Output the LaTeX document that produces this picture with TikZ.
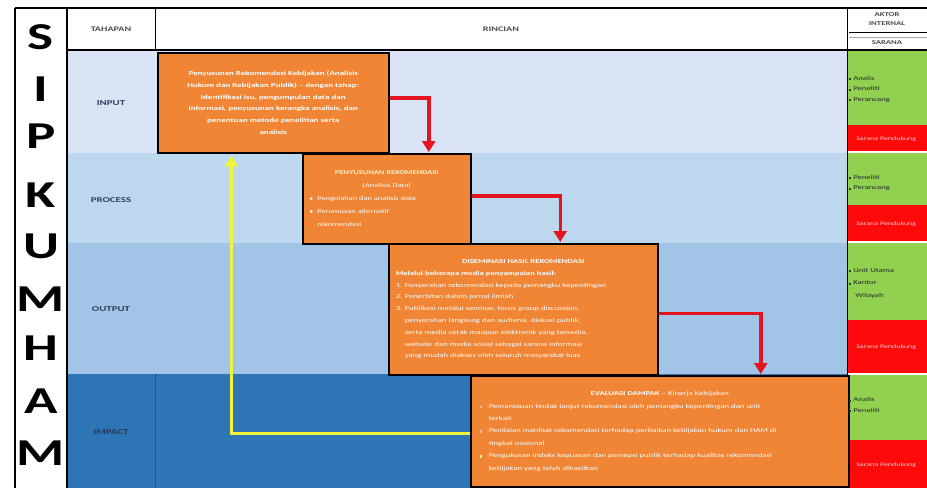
\documentclass[tikz,border=0pt]{standalone}
\usepackage{fontspec}
\setmainfont{Carlito}[FakeStretch=1.45]
\usetikzlibrary{arrows.meta, positioning}

\definecolor{barisinput}{HTML}{DAE3F3}
\definecolor{barisproses}{HTML}{BDD7EE}
\definecolor{barisoutput}{HTML}{A2C4E6}
\definecolor{barisimpact}{HTML}{2E75B6}
\definecolor{oranye}{HTML}{F08536}
\definecolor{hijau}{HTML}{92D050}
\definecolor{hijautua}{HTML}{1E4D14}
\definecolor{merah}{HTML}{FF0A0A}
\definecolor{panahmerah}{HTML}{E3141E}
\definecolor{panahkuning}{HTML}{F0F53C}
\definecolor{teksbaris}{HTML}{2F3E5C}
\definecolor{judulkuning}{HTML}{FFF2CC}

\begin{document}
\begin{tikzpicture}[
            x = 1pt, y = -1pt, % one unit per pixel, y grows down
            > = {Triangle[width=13pt,length=11pt]}, % arrow head style
            semithick % line style
        ]

        \tikzstyle{huruf}=[
            font = \fontsize{38}{38}\selectfont\bfseries,
            inner sep = 0pt
        ]
        \tikzstyle{tahap}=[
            font = \fontsize{7.5}{8}\selectfont\bfseries,
            text = teksbaris
        ]
        \tikzstyle{kepala}=[
            font = \fontsize{7}{8}\selectfont\bfseries,
            text = black!70
        ]
        \tikzstyle{ketbox}=[
            draw = black,
            line width = 1.5pt,
            fill = oranye,
            text = white,
            anchor = north west,
            inner sep = 2pt,
            font = \fontsize{6}{11.8}\selectfont
        ]
        \tikzstyle{aktor}=[
            anchor = west,
            align = left,
            inner sep = 0pt,
            font = \fontsize{6}{10.5}\selectfont,
            text = black!85
        ]
        \tikzstyle{sarana}=[
            anchor = west,
            inner sep = 0pt,
            font = \fontsize{5.5}{6}\selectfont,
            text = red!20
        ]
        \tikzstyle{panah}=[
            ->,
            draw = panahmerah,
            line width = 3.5pt
        ]
        \tikzstyle{balik}=[
            ->,
            draw = panahkuning,
            line width = 3.5pt
        ]

        \useasboundingbox (0,0) rectangle (927,488);
        \fill[white] (0,0) rectangle (927,488);

        % row colours
        \fill[barisinput] (67,50) rectangle (848,153);
        \fill[barisproses] (67,153) rectangle (848,243);
        \fill[barisoutput] (67,243) rectangle (848,374);
        \fill[barisimpact] (67,374) rectangle (848,488);
        \draw[barisimpact!75!black, line width=0.8pt] (155,374) -- (155,488);

        % actor column
        \fill[hijau] (848,50) rectangle (927,125);
        \fill[merah] (848,125) rectangle (927,151);
        \fill[hijau] (848,153) rectangle (927,205);
        \fill[merah] (848,205) rectangle (927,241);
        \fill[hijau] (848,243) rectangle (927,320);
        \fill[merah] (848,320) rectangle (927,373);
        \fill[hijau] (848,375) rectangle (927,440);
        \fill[merah] (848,440) rectangle (927,488);

        % grid
        \draw[line width=2pt] (15,8) -- (927,8);
        \draw[line width=2pt] (67,50) -- (927,50);
        \draw[line width=2.5pt] (15,8) -- (15,488);
        \draw[line width=2pt] (67,8) -- (67,488);
        \draw[line width=1pt] (155,8) -- (155,50);
        \draw[line width=1pt] (847,8) -- (847,488);
        \draw[line width=0.7pt] (849,32) -- (927,32);
        \draw[black!35, line width=0.5pt] (849,37) -- (927,37);

        % header
        \node[kepala] (tahapan) at (111,29) {TAHAPAN};
        \node[kepala] (rincian) at (501,29) {RINCIAN};
        \node[kepala, align=center, font=\fontsize{6}{9.5}\selectfont\bfseries] (aktorint) at (887,19) {AKTOR\\INTERNAL};
        \node[kepala, font=\fontsize{6}{7}\selectfont\bfseries] (saranah) at (887,43) {SARANA};

        % SIPKUMHAM
        \node[huruf] (h1) at (41,37) {S};
        \node[huruf] (h2) at (41,89) {I};
        \node[huruf] (h3) at (41,136) {P};
        \node[huruf] (h4) at (41,195) {K};
        \node[huruf] (h5) at (41,246) {U};
        \node[huruf] (h6) at (41,299) {M};
        \node[huruf] (h7) at (41,348) {H};
        \node[huruf] (h8) at (41,401) {A};
        \node[huruf] (h9) at (41,453) {M};

        % stages
        \node[tahap] (tin) at (111,103) {INPUT};
        \node[tahap] (tproc) at (111,200) {PROCESS};
        \node[tahap] (tout) at (111,309) {OUTPUT};
        \node[tahap, text=teksbaris!90!black] (timp) at (111,432) {IMPACT};

        % detail boxes
        \node[ketbox, minimum width=231pt, minimum height=100pt, text width=215pt,
              align=center, font=\fontsize{6.2}{11.8}\selectfont\bfseries] (inbox) at (157,52) {%
            Penyusunan Rekomendasi Kebijakan (Analisis\\
            Hukum dan Kebijakan Publik) -- dengan tahap:\\
            identifikasi isu, pengumpulan data dan\\
            informasi, penyusunan kerangka analisis, dan\\
            penentuan metode penelitian serta\\
            analisis};

        \node[ketbox, minimum width=168pt, minimum height=90pt, text width=155pt,
              align=left, font=\fontsize{5.8}{13}\selectfont] (procbox) at (302,153) {%
            \makebox[\linewidth]{\color{judulkuning}\bfseries PENYUSUNAN REKOMENDASI}\\
            \makebox[\linewidth]{(Analisis Data)}\\
            \makebox[8pt][l]{$\bullet$}Pengolahan dan analisis data\\
            \makebox[8pt][l]{$\bullet$}Perumusan alternatif\\
            \hspace*{8pt}rekomendasi};

        \node[ketbox, minimum width=269pt, minimum height=131pt, text width=255pt,
              align=left] (outbox) at (388,243) {%
            \makebox[\linewidth]{\bfseries DISEMINASI HASIL REKOMENDASI}\\
            \textbf{Melalui beberapa media penyampaian hasil:}\\
            \makebox[9pt][l]{1.}Penyerahan rekomendasi kepada pemangku kepentingan\\
            \makebox[9pt][l]{2.}Penerbitan dalam jurnal ilmiah\\
            \makebox[9pt][l]{3.}Publikasi melalui seminar, focus group discussion,\\
            \hspace*{9pt}penyerahan langsung dan audiensi, diskusi publik,\\
            \hspace*{9pt}serta media cetak maupun elektronik yang tersedia,\\
            \hspace*{9pt}website dan media sosial sebagai sarana informasi\\
            \hspace*{9pt}yang mudah diakses oleh seluruh masyarakat luas};

        \node[ketbox, minimum width=378pt, minimum height=111pt, text width=360pt,
              align=left, font=\fontsize{6}{12.4}\selectfont] (impbox) at (470,375) {%
            \makebox[\linewidth]{\textbf{EVALUASI DAMPAK} -- Kinerja Kebijakan}\\
            \makebox[9pt][l]{\color{red!30}\rule{2.5pt}{2.5pt}}Pemantauan tindak lanjut rekomendasi oleh pemangku kepentingan dan unit\\
            \hspace*{9pt}terkait\\
            \makebox[9pt][l]{\color{red!30}\rule{2.5pt}{2.5pt}}Penilaian manfaat rekomendasi terhadap perbaikan kebijakan hukum dan HAM di\\
            \hspace*{9pt}tingkat nasional\\
            \makebox[9pt][l]{\color{yellow!60}\rule{2.5pt}{2.5pt}}Pengukuran indeks kepuasan dan persepsi publik terhadap kualitas rekomendasi\\
            \hspace*{9pt}kebijakan yang telah dihasilkan};

        % actors and facilities
        \node[aktor] (ak1) at (849,89) {\textcolor{hijautua}{\rule{2pt}{2pt}} Analis\\\textcolor{hijautua}{\rule{2pt}{2pt}} Peneliti\\\textcolor{hijautua}{\rule{2pt}{2pt}} Perancang};
        \node[aktor] (ak2) at (849,183) {\textcolor{hijautua}{\rule{2pt}{2pt}} Peneliti\\\textcolor{hijautua}{\rule{2pt}{2pt}} Perancang};
        \node[aktor, font=\fontsize{6}{12.5}\selectfont] (ak3) at (849,283) {\textcolor{hijautua}{\rule{2pt}{2pt}} Unit Utama\\\textcolor{hijautua}{\rule{2pt}{2pt}} Kantor\\\hspace*{6pt}Wilayah};
        \node[aktor] (ak4) at (849,405) {\textcolor{hijautua}{\rule{2pt}{2pt}} Analis\\\textcolor{hijautua}{\rule{2pt}{2pt}} Peneliti};
        \node[sarana] (sr1) at (856,139) {Sarana Pendukung};
        \node[sarana] (sr2) at (856,224) {Sarana Pendukung};
        \node[sarana] (sr3) at (856,347) {Sarana Pendukung};
        \node[sarana] (sr4) at (856,465) {Sarana Pendukung};

        % flow between stages
        \draw[panah] ([yshift=5pt]inbox.east) -| ([xshift=42pt, yshift=1pt]procbox.north);
        \draw[panah] ([yshift=3pt]procbox.east) -| ([xshift=37pt, yshift=1pt]outbox.north);
        \draw[panah] ([yshift=-4pt]outbox.east) -| ([xshift=101pt, yshift=1pt]impbox.north);
        \draw[balik] ([yshift=-2pt]impbox.west) -| ([xshift=-42pt, yshift=-2pt]inbox.south);
    \end{tikzpicture}
\end{document}
